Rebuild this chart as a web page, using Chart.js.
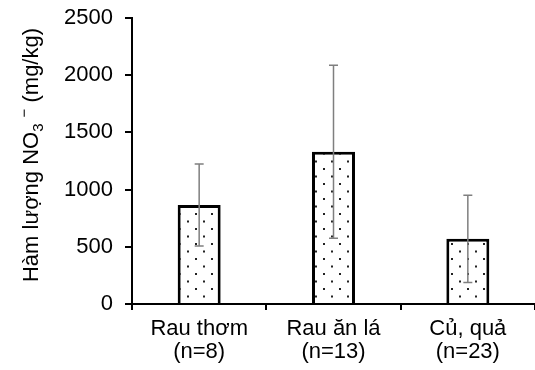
<!DOCTYPE html>
<html>
<head>
<meta charset="utf-8">
<script src="https://cdn.jsdelivr.net/npm/chart.js@4"></script>
<style>
  html, body { margin: 0; padding: 0; background: #fff; }
  #wrap { width: 535px; height: 370px; overflow: hidden; }
</style>
</head>
<body>
<div id="wrap"><canvas id="myChart" width="535" height="370"></canvas></div>
<script>
const categories = [['Rau thơm', '(n=8)'], ['Rau ăn lá', '(n=13)'], ['Củ, quả', '(n=23)']];
const means = [866, 1331, 570];
const errors = [358, 756, 381];
const yTicks = [0, 500, 1000, 1500, 2000, 2500];

const FONT = "'Liberation Sans', Arial, sans-serif";

// dotted fill like the original
function dotPattern(){
  const c = document.createElement('canvas');
  c.width = 16; c.height = 15;
  const g = c.getContext('2d');
  g.fillStyle = '#fff';
  g.fillRect(0, 0, 16, 15);
  g.fillStyle = '#222';
  g.fillRect(3, 3, 2, 2);
  g.fillRect(11, 10.5, 2, 2);
  return g.createPattern(c, 'repeat');
}

const errorBars = {
  id: 'errorBars',
  afterDatasetsDraw(chart){
    const {ctx, scales: {y}} = chart;
    const meta = chart.getDatasetMeta(0);
    ctx.save();
    ctx.strokeStyle = '#7f7f7f';
    ctx.lineWidth = 1.5;
    meta.data.forEach((bar, i) => {
      const x = bar.x;
      const top = y.getPixelForValue(means[i] + errors[i]);
      const bot = y.getPixelForValue(means[i] - errors[i]);
      ctx.beginPath();
      ctx.moveTo(x, top); ctx.lineTo(x, bot);
      ctx.moveTo(x - 4.5, top); ctx.lineTo(x + 4.5, top);
      ctx.moveTo(x - 4.5, bot); ctx.lineTo(x + 4.5, bot);
      ctx.stroke();
    });
    ctx.restore();
  }
};

// y title with subscript/superscript
const yTitle = {
  id: 'yTitle',
  afterDraw(chart){
    const ctx = chart.ctx;
    const size = 22, small = 15;
    const parts = [
      {t: 'Hàm lượng NO', f: size, dy: 0},
      {t: '3', f: small, dy: 5},
      {t: ' ', f: size, dy: 0},
      {t: '−', f: small, dy: -9},
      {t: ' (mg/kg)', f: size, dy: 0}
    ];
    let total = 0;
    parts.forEach(p => { ctx.font = p.f + 'px ' + FONT; p.w = ctx.measureText(p.t).width; total += p.w; });
    ctx.save();
    ctx.translate(38, 155);
    ctx.rotate(-Math.PI / 2);
    ctx.fillStyle = '#000';
    ctx.textBaseline = 'alphabetic';
    let x = -total / 2;
    parts.forEach(p => {
      ctx.font = p.f + 'px ' + FONT;
      ctx.fillText(p.t, x, p.dy);
      x += p.w;
    });
    ctx.restore();
  }
};

const data = {
  labels: categories,
  datasets: [{
    data: means,
    backgroundColor: dotPattern(),
    borderColor: '#000',
    borderWidth: 3,
    borderSkipped: 'bottom',
    categoryPercentage: 1,
    barPercentage: 0.32
  }]
};

const config = {
  type: 'bar',
  data: data,
  options: {
    responsive: false,
    animation: false,
    layout: { padding: { top: 18, right: -4, left: 0, bottom: 0 } },
    plugins: { legend: { display: false }, tooltip: { enabled: false } },
    scales: {
      x: {
        afterFit(s){ s.height = 66; s.paddingLeft = 0; s.paddingRight = 0; },
        border: { color: '#000', width: 2 },
        grid: { drawOnChartArea: false, tickLength: 6, color: '#000', lineWidth: 2, offset: true },
        ticks: { color: '#000', font: { family: FONT, size: 22, lineHeight: 1.05 }, padding: 7, maxRotation: 0 }
      },
      y: {
        min: 0, max: 2500,
        afterFit(s){ s.width = 132; s.paddingTop = 0; s.paddingBottom = 0; },
        afterBuildTicks(s){ s.ticks = yTicks.map(v => ({value: v})); },
        border: { color: '#000', width: 2 },
        grid: { drawOnChartArea: false, tickLength: 7, color: '#000', lineWidth: 2 },
        ticks: { color: '#000', font: { family: FONT, size: 22, lineHeight: 1 }, padding: 12, callback: v => String(v) }
      }
    }
  },
  plugins: [errorBars, yTitle]
};

const myChart = new Chart(document.getElementById('myChart'), config);
</script>
</body>
</html>
